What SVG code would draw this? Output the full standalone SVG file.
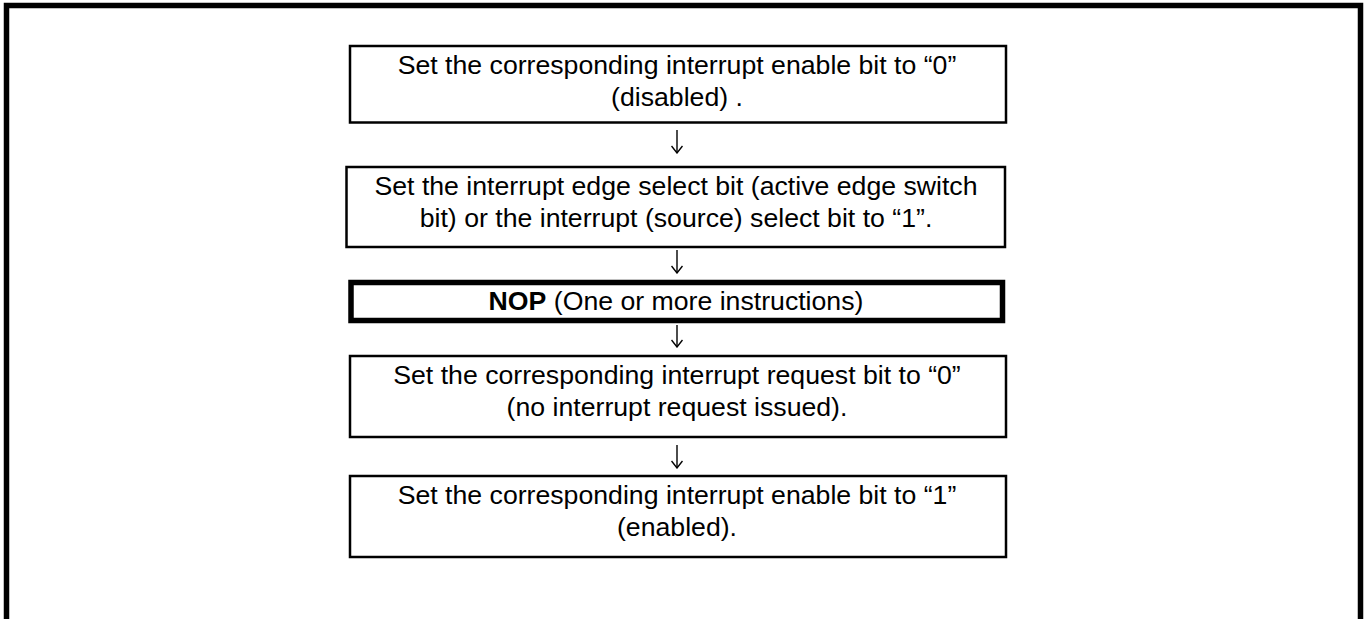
<svg xmlns="http://www.w3.org/2000/svg" width="1368" height="619" viewBox="0 0 1368 619">
<defs>
<marker id="head" viewBox="0 0 10 12" refX="9" refY="6" markerWidth="10" markerHeight="12" markerUnits="userSpaceOnUse" orient="auto">
<path d="M2,0.5 L9,6 L2,11.5" fill="none" stroke="#000" stroke-width="1.4"/>
</marker>
</defs>
<style>
.box{fill:#fff;stroke:#000;stroke-width:2.5}
.thick{fill:#fff;stroke:#000;stroke-width:5.5}
.t{font-family:"Liberation Sans",Arial,sans-serif;font-size:26.67px;fill:#000;text-anchor:middle}
.b{font-weight:bold}
.arr{fill:none;stroke:#000;stroke-width:1.4}
</style>
<rect x="0" y="0" width="1368" height="619" fill="#fff"/>
<path d="M6.5,619 V5.5 H1360.5 V619" fill="none" stroke="#000" stroke-width="5.5"/>
<g id="step1">
<rect class="box" x="350" y="46" width="656" height="76.5"/>
<text class="t" x="677" y="74">Set the corresponding interrupt enable bit to “0”</text>
<text class="t" x="677" y="106">(disabled) .</text>
</g>
<g id="step2">
<rect class="box" x="346.5" y="167" width="658.5" height="80"/>
<text class="t" x="676" y="195">Set the interrupt edge select bit (active edge switch</text>
<text class="t" x="676" y="227">bit) or the interrupt (source) select bit to “1”.</text>
</g>
<g id="step3">
<rect class="thick" x="351" y="282.5" width="651.5" height="38"/>
<text class="t" x="676" y="310"><tspan class="b">NOP</tspan> (One or more instructions)</text>
</g>
<g id="step4">
<rect class="box" x="350" y="356" width="656" height="81"/>
<text class="t" x="677" y="384">Set the corresponding interrupt request bit to “0”</text>
<text class="t" x="677" y="416">(no interrupt request issued).</text>
</g>
<g id="step5">
<rect class="box" x="350" y="476" width="656" height="81"/>
<text class="t" x="677" y="504">Set the corresponding interrupt enable bit to “1”</text>
<text class="t" x="677" y="536">(enabled).</text>
</g>
<g id="connectors">
<path class="arr" d="M677,130 V153" marker-end="url(#head)"/>
<path class="arr" d="M677,250 V273" marker-end="url(#head)"/>
<path class="arr" d="M677,325 V347" marker-end="url(#head)"/>
<path class="arr" d="M677,445 V468" marker-end="url(#head)"/>
</g>
</svg>
